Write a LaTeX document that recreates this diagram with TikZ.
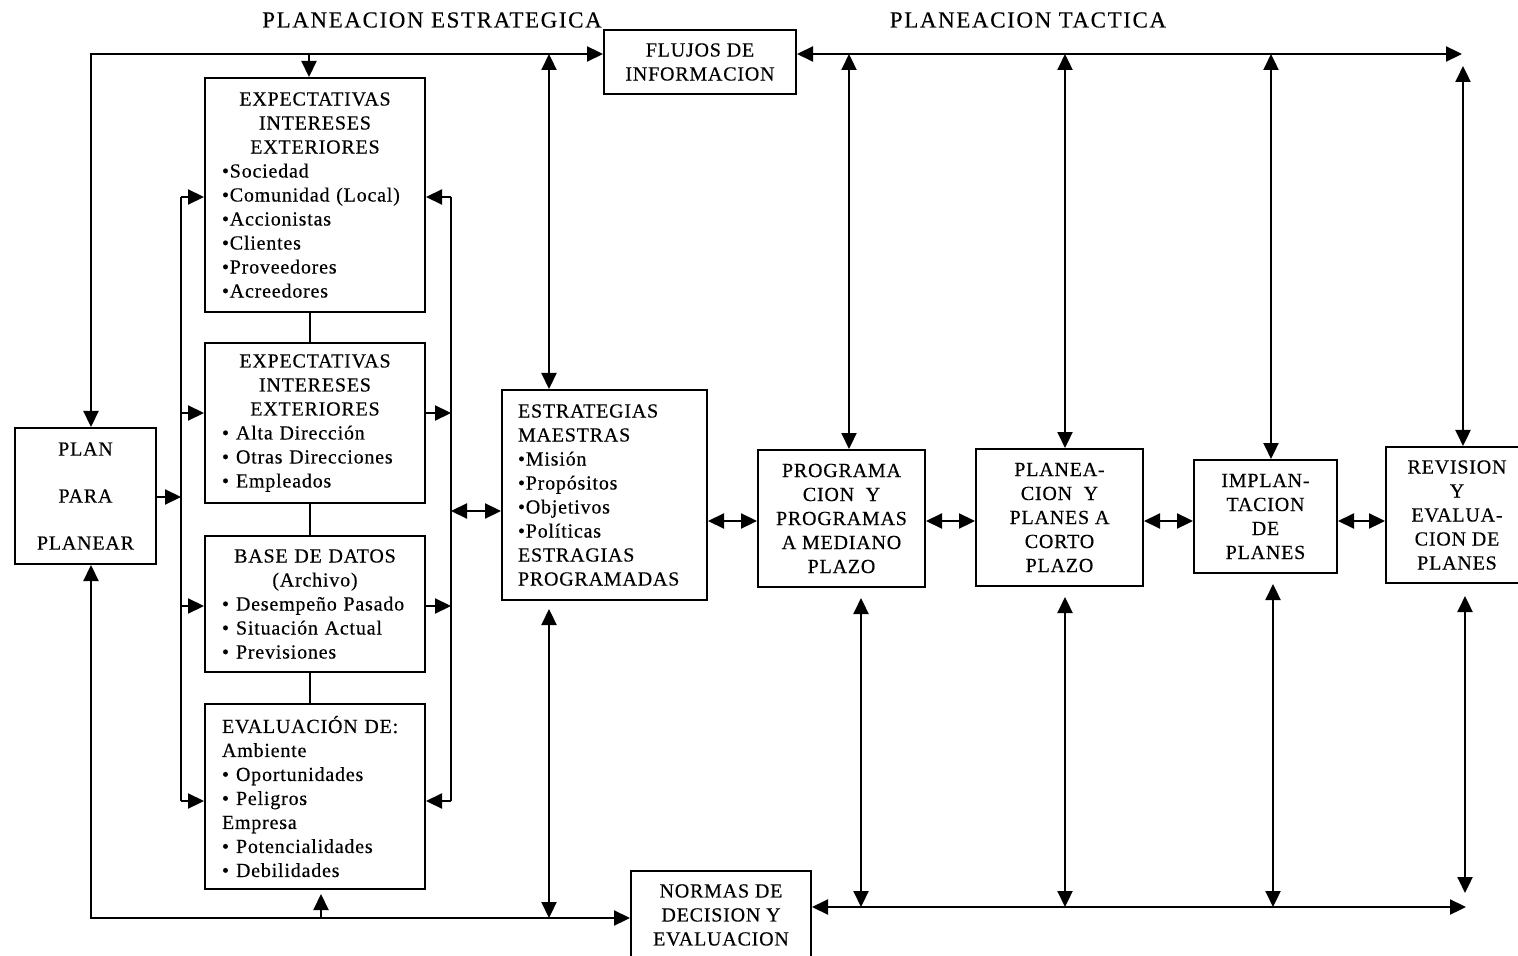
\documentclass[tikz,border=0pt]{standalone}
\usepackage{fontspec}
\setmainfont{Liberation Serif}
\newfontfamily\labelfont[LetterSpace=4,FakeBold=0.4]{Liberation Serif}
\newfontfamily\headfont[LetterSpace=7,FakeBold=0.2]{Liberation Serif}
\usetikzlibrary{arrows.meta}
% centred heading line inside a left-aligned box
\newcommand\midline[1]{\makebox[93pt][c]{#1}}
% bullet followed by a fixed gap
\newcommand\bul{•\hspace{3.5pt}}

\begin{document}
\begin{tikzpicture}[x=0.5pt,y=-0.5pt,
  box/.style={draw,line width=1pt,inner sep=0pt,font=\labelfont\fontsize{10}{12}\selectfont},
  cbox/.style={box,align=center},
  lbox/.style={box,align=left},
  link/.style={line width=1.1pt},
  arr/.style={link,-{Triangle[length=8pt,width=7.5pt]}},
  arrr/.style={link,{Triangle[length=8pt,width=7.5pt]}-{Triangle[length=8pt,width=7.5pt]}},
  head/.style={font=\headfont\fontsize{11.5}{14}\selectfont,inner sep=0pt}
]
\path[use as bounding box] (0,0) rectangle (1518,956);
\clip (0,0) rectangle (1518,956);

% guide rows and columns
\coordinate (yT) at (0,54);
\coordinate (yBl) at (0,918);
\coordinate (yBr) at (0,907);
\coordinate (yM) at (0,521);
\coordinate (yD) at (0,66);
\coordinate (yDb) at (0,893);
\coordinate (r1) at (0,197);
\coordinate (r2) at (0,413);
\coordinate (r3) at (0,606);
\coordinate (r4) at (0,801);
\coordinate (rP) at (0,497);
\coordinate (rE) at (0,511);
\coordinate (xL) at (91,0);
\coordinate (xLb) at (181,0);
\coordinate (xRb) at (451,0);
\coordinate (xE) at (549,0);
\coordinate (xT1) at (309,0);
\coordinate (xT2) at (321,0);
\coordinate (xK) at (310,0);
\coordinate (xA) at (849,0);
\coordinate (xAb) at (861,0);
\coordinate (xB) at (1065,0);
\coordinate (xC) at (1271,0);
\coordinate (xCb) at (1273,0);
\coordinate (xD) at (1463,0);
\coordinate (xDb) at (1465,0);
\coordinate (xTend) at (1462,0);
\coordinate (xBend) at (1466,0);

% headings
\node[head] (t1) at (432,20) {PLANEACION ESTRATEGICA};
\node[head] (t2) at (1028,20) {PLANEACION TACTICA};

% boxes
\node[cbox,minimum width=70.5pt,minimum height=68pt] (plan) at (85.5,496)
  {PLAN\\[11.5pt]PARA\\[11.5pt]PLANEAR};
\node[cbox,minimum width=96pt,minimum height=32pt] (flujos) at (700,62)
  {FLUJOS DE\\INFORMACION};
\node[lbox,text width=93pt,minimum width=110pt,minimum height=117pt] (exp1) at (315,195)
  {\midline{EXPECTATIVAS}\\\midline{INTERESES}\\\midline{EXTERIORES}\\•Sociedad\\•Comunidad (Local)\\•Accionistas\\•Clientes\\•Proveedores\\•Acreedores};
\node[lbox,text width=93pt,minimum width=110pt,minimum height=80pt] (exp2) at (315,423)
  {\midline{EXPECTATIVAS}\\\midline{INTERESES}\\\midline{EXTERIORES}\\\bul Alta Dirección\\\bul Otras Direcciones\\\bul Empleados};
\node[lbox,text width=93pt,minimum width=110pt,minimum height=68pt] (base) at (315,604)
  {\midline{BASE DE DATOS}\\\midline{(Archivo)}\\\bul Desempeño Pasado\\\bul Situación Actual\\\bul Previsiones};
\node[lbox,text width=93pt,minimum width=110pt,minimum height=92.5pt] (eval) at (315,796.5)
  {EVALUACIÓN DE:\\Ambiente\\\bul Oportunidades\\\bul Peligros\\Empresa\\\bul Potencialidades\\\bul Debilidades};
\node[lbox,text width=86.5pt,minimum width=102.5pt,minimum height=105pt] (estrat) at (604.5,495)
  {ESTRATEGIAS\\MAESTRAS\\•Misión\\•Propósitos\\•Objetivos\\•Políticas\\ESTRAGIAS\\PROGRAMADAS};
\node[cbox,minimum width=83.5pt,minimum height=68.5pt] (prog) at (841.5,518.5)
  {PROGRAMA\\CION\ \ Y\\PROGRAMAS\\A MEDIANO\\PLAZO};
\node[cbox,minimum width=83.5pt,minimum height=68.5pt] (planea) at (1059.5,517.5)
  {PLANEA-\\CION\ \ Y\\PLANES A\\CORTO\\PLAZO};
\node[cbox,minimum width=71.5pt,minimum height=56.5pt] (implan) at (1265.5,516.5)
  {IMPLAN-\\TACION\\DE\\PLANES};
\node[cbox,minimum width=71pt,minimum height=68pt] (revis) at (1457,515)
  {REVISION\\Y\\EVALUA-\\CION DE\\PLANES};
\node[cbox,minimum width=90pt,minimum height=44pt] (normas) at (721,915)
  {NORMAS DE\\DECISION Y\\EVALUACION};

% outer loop: plan to information flows and to decision norms
\draw[arrr] (xL |- plan.north) -- (xL |- yT) -- (flujos.west |- yT);
\draw[arr] (xT1 |- yT) -- (xT1 |- exp1.north);
\draw[arrr] (xL |- plan.south) -- (xL |- yBl) -- (normas.west |- yBl);
\draw[arr,shorten >=2pt] (xT2 |- yBl) -- (xT2 |- eval.south);
\draw[arrr] (xE |- estrat.north) -- (xE |- yT);
\draw[arrr,shorten <=4pt] (xE |- estrat.south) -- (xE |- yBl);

% left distribution bus
\draw[link] (xLb |- r1) -- (xLb |- r4);
\draw[arr] (plan.east |- rP) -- (xLb |- rP);
\draw[arr] (xLb |- r1) -- (exp1.west |- r1);
\draw[arr] (xLb |- r2) -- (exp2.west |- r2);
\draw[arr] (xLb |- r3) -- (base.west |- r3);
\draw[arr] (xLb |- r4) -- (eval.west |- r4);

% right collection bus
\draw[link] (xRb |- r1) -- (xRb |- r4);
\draw[arr] (xRb |- r1) -- (exp1.east |- r1);
\draw[arr] (exp2.east |- r2) -- (xRb |- r2);
\draw[arr] (base.east |- r3) -- (xRb |- r3);
\draw[arr] (xRb |- r4) -- (eval.east |- r4);
\draw[arrr] (xRb |- rE) -- (estrat.west |- rE);

% stacked boxes
\draw[link] (xK |- exp1.south) -- (xK |- exp2.north);
\draw[link] (xK |- exp2.south) -- (xK |- base.north);
\draw[link] (xK |- base.south) -- (xK |- eval.north);

% main chain
\draw[arrr] (estrat.east |- yM) -- (prog.west |- yM);
\draw[arrr] (prog.east |- yM) -- (planea.west |- yM);
\draw[arrr] (planea.east |- yM) -- (implan.west |- yM);
\draw[arrr] (implan.east |- yM) -- (revis.west |- yM);

% information flows
\draw[arrr] (flujos.east |- yT) -- (xTend |- yT);
\draw[arrr] (xA |- yT) -- (xA |- prog.north);
\draw[arrr] (xB |- yT) -- (xB |- planea.north);
\draw[arrr] (xC |- yT) -- (xC |- implan.north);
\draw[arrr] (xD |- yD) -- (xD |- revis.north);

% decision norms
\draw[arrr] (normas.east |- yBr) -- (xBend |- yBr);
\draw[arrr,shorten <=5pt] (xAb |- prog.south) -- (xAb |- yBr);
\draw[arrr,shorten <=5pt] (xB |- planea.south) -- (xB |- yBr);
\draw[arrr,shorten <=5pt] (xCb |- implan.south) -- (xCb |- yBr);
\draw[arrr,shorten <=6pt] (xDb |- revis.south) -- (xDb |- yDb);
\end{tikzpicture}
\end{document}
